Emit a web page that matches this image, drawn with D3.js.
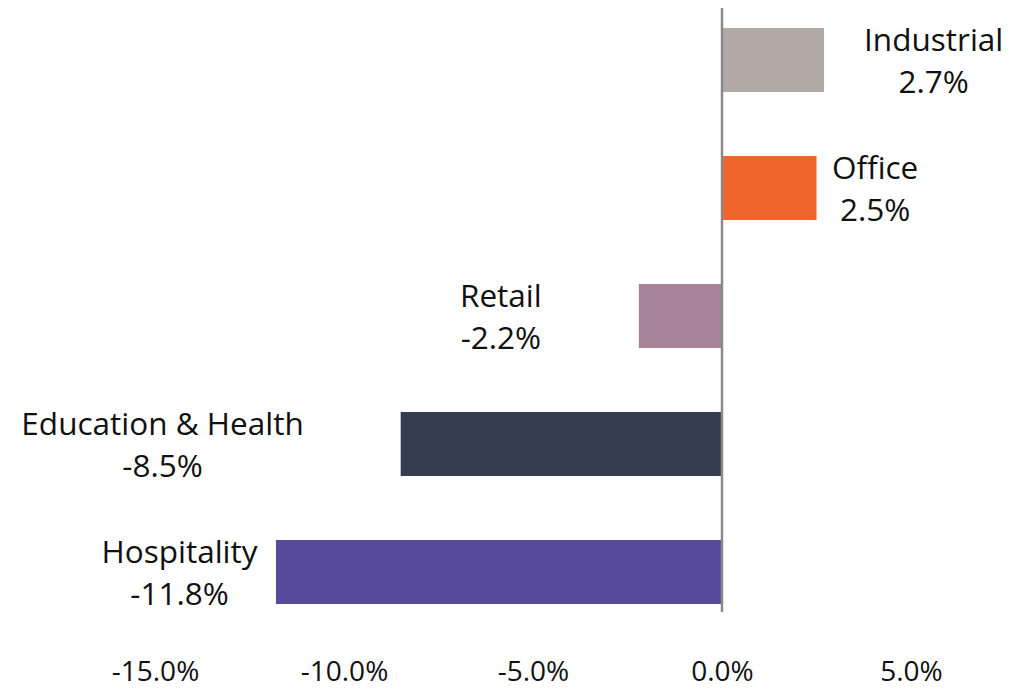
<!DOCTYPE html>
<html>
<head>
<meta charset="utf-8" />
<title>Sector change</title>
<script src="https://d3js.org/d3.v7.min.js"></script>
<style>
body { margin: 0; background: #fff; }
text { font-family: "Open Sans", sans-serif; fill: #111; }
</style>
</head>
<body>
<div id="chart"></div>
<script>
// data
var sectors = ["Industrial", "Office", "Retail", "Education & Health", "Hospitality"];
var values = [2.7, 2.5, -2.2, -8.5, -11.8];
var colors = ["#b2a9a7", "#ef652a", "#a78499", "#343e50", "#574a9b"];
var ticks = [-15, -10, -5, 0, 5];
// where each label sits, in axis units
var labelAt = [5.6, 4.05, -5.85, -14.8, -14.35];

var width = 1033, height = 690;

var svg = d3.select("#chart").append("svg")
    .attr("width", width)
    .attr("height", height);

var x = d3.scaleLinear().domain([-15, 5]).range([155, 911]);
var y = d3.scaleBand().domain(sectors).range([-4, 636]).paddingInner(0.5).paddingOuter(0.25);

// plain hyphen for negatives, like the original
function pct(v) { return v.toFixed(1) + "%"; }

svg.append("g").selectAll("rect")
    .data(sectors)
    .enter().append("rect")
        .attr("x", function(d, i) { return Math.min(x(0), x(values[i])); })
        .attr("y", function(d) { return y(d); })
        .attr("width", function(d, i) { return Math.abs(x(values[i]) - x(0)); })
        .attr("height", y.bandwidth())
        .attr("fill", function(d, i) { return colors[i]; });

// zero line
svg.append("line")
    .attr("x1", x(0)).attr("x2", x(0))
    .attr("y1", 8).attr("y2", 612)
    .attr("stroke", "#8a8a8a")
    .attr("stroke-width", 2.5);

// labels
var lab = svg.append("g").selectAll("text")
    .data(sectors)
    .enter().append("text")
        .attr("text-anchor", "middle")
        .attr("font-size", "31.5px")
        .attr("x", function(d, i) { return x(labelAt[i]); })
        .attr("y", function(d) { return y(d) + y.bandwidth() / 2 - 9; });
lab.append("tspan").text(function(d) { return d; });
lab.append("tspan")
    .attr("x", function(d, i) { return x(labelAt[i]); })
    .attr("dy", 42)
    .text(function(d, i) { return pct(values[i]); });

// x axis, no line
var axis = d3.axisBottom(x).tickValues(ticks)
    .tickSize(0).tickPadding(0)
    .tickFormat(pct);
var gx = svg.append("g").attr("transform", "translate(0,681)").call(axis);
gx.select(".domain").remove();
gx.selectAll("text")
    .attr("dy", 0)
    .attr("y", 0)
    .attr("font-size", "28px")
    .attr("font-family", "Open Sans, sans-serif")
    .attr("fill", "#111");
</script>
</body>
</html>
